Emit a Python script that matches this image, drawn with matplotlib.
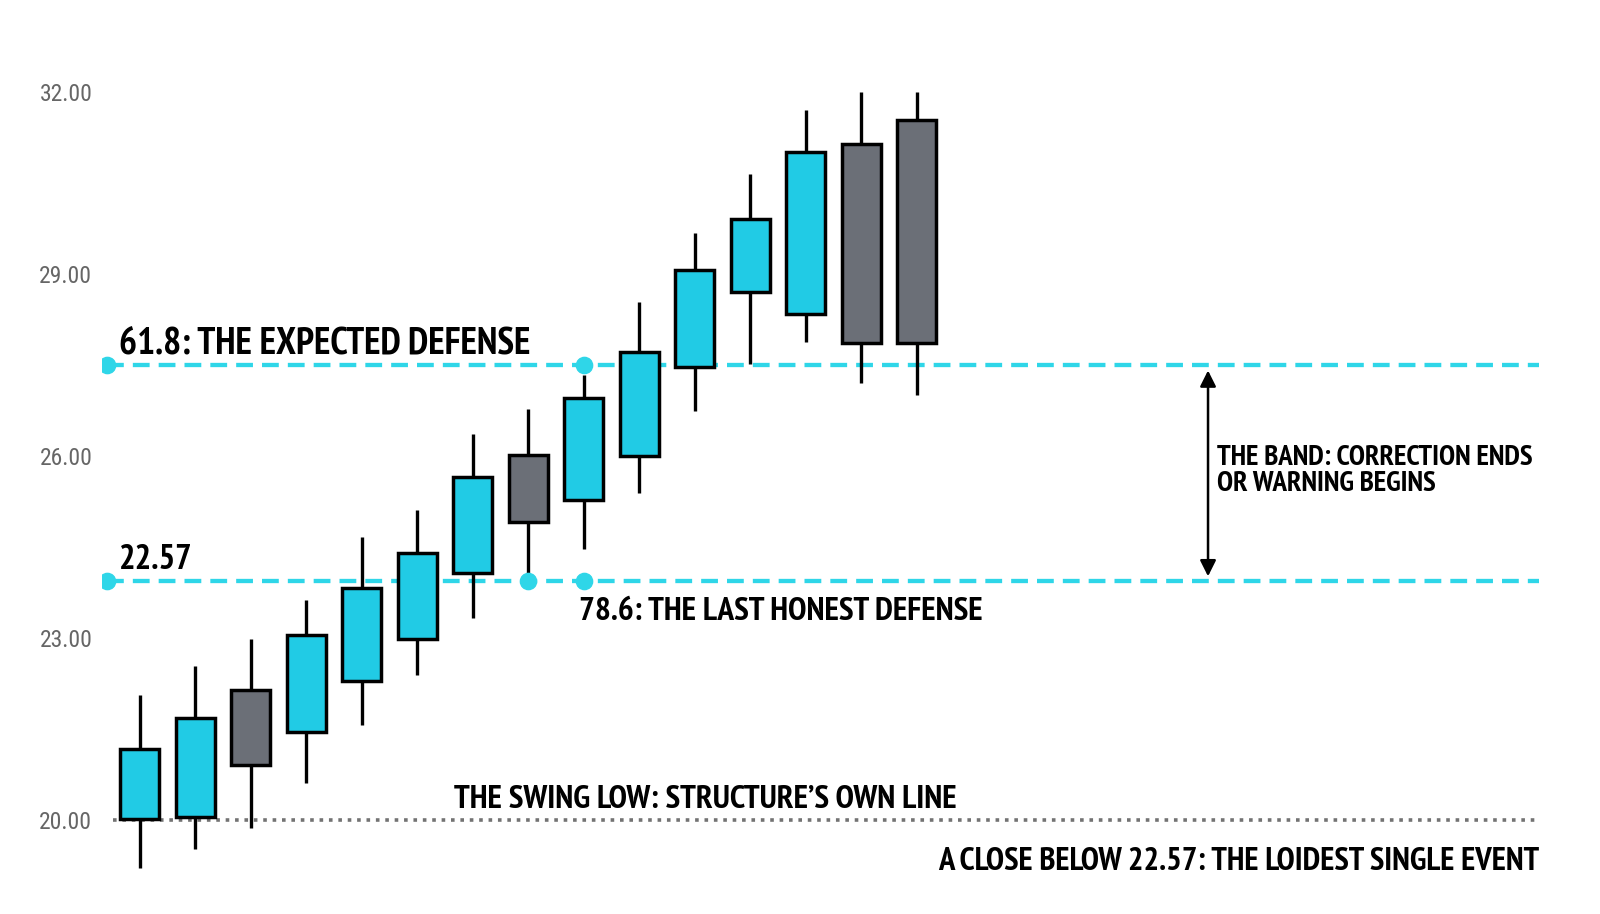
import matplotlib
matplotlib.use("Agg")
import matplotlib.pyplot as plt
from matplotlib.patches import Rectangle

plt.rcParams['font.family'] = ['Roboto Condensed', 'DejaVu Sans']
LABEL_FONT = ['PT Sans Narrow', 'Roboto Condensed', 'DejaVu Sans']

# OHLC
opens  = [20.02, 20.05, 22.15, 21.46, 22.30, 22.99, 24.07, 26.02, 25.28, 26.00, 27.46, 28.71, 28.34, 31.14, 31.53]
highs  = [22.07, 22.55, 22.99, 23.63, 24.66, 25.11, 26.37, 26.77, 27.34, 28.54, 29.68, 30.64, 31.70, 32.00, 32.00]
lows   = [19.21, 19.53, 19.88, 20.62, 21.58, 22.40, 23.33, 24.08, 24.47, 25.39, 26.74, 27.51, 27.88, 27.21, 27.01]
closes = [21.18, 21.68, 20.92, 23.06, 23.82, 24.40, 25.66, 24.91, 26.96, 27.71, 29.06, 29.90, 31.01, 27.87, 27.87]

level_618 = 27.50
level_786 = 23.95
swing_low = 20.00
yticks = [20, 23, 26, 29, 32]

CYAN = '#21cbe5'
LINE_CYAN = '#2fd6e8'
GRAY = '#6b6f77'

fig = plt.figure(figsize=(16, 9.14), dpi=100)
ax = fig.add_axes([102 / 1600, 0, 1439 / 1600, 1])
ax.set_xlim(-0.68, 25.25)
ax.set_ylim(18.46, 33.51)

x_left, x_right = -0.59, 25.21
w = 0.7
for i, (o, h, l, c) in enumerate(zip(opens, highs, lows, closes)):
    col = CYAN if c >= o else GRAY
    ax.plot([i, i], [l, h], color='black', lw=2.4, zorder=3, solid_capstyle='butt')
    ax.add_patch(Rectangle((i - w / 2, min(o, c)), w, abs(c - o),
                           facecolor=col, edgecolor='black', lw=2.5, zorder=4))

# fib levels
for lev in (level_618, level_786):
    ax.plot([x_left, x_right], [lev] * 2, color=LINE_CYAN, lw=3.1, ls=(0, (3.9, 2.1)), zorder=2)
ax.plot([x_left, 8], [level_618] * 2, 'o', color=LINE_CYAN, ms=11.7, zorder=5)
ax.plot([x_left, 7, 8], [level_786] * 3, 'o', color=LINE_CYAN, ms=11.7, zorder=5)

# swing low
ax.plot([x_left + 0.1, x_right], [swing_low] * 2, color='#737373', lw=2.6, ls=(0, (1, 1.6)), zorder=2)

# band arrow
ax.annotate('', xy=(19.25, 27.41), xytext=(19.25, 24.02),
            arrowprops=dict(arrowstyle='<|-|>', color='black', lw=1.8, mutation_scale=24,
                            shrinkA=0, shrinkB=0), zorder=6)

ax.text(-0.37, 27.67, '61.8: THE EXPECTED DEFENSE', fontsize=27.3, weight='bold', family=LABEL_FONT, va='baseline')
ax.text(-0.37, 24.135, '22.57', fontsize=25, weight='bold', family=LABEL_FONT, va='baseline')
ax.text(7.92, 23.295, '78.6: THE LAST HONEST DEFENSE', fontsize=24, weight='bold', family=LABEL_FONT, va='baseline')
ax.text(10.2, 20.20, 'THE SWING LOW: STRUCTURE\u2019S OWN LINE', fontsize=24, weight='bold', family=LABEL_FONT,
        ha='center', va='baseline')
ax.text(x_right, 19.18, 'A CLOSE BELOW 22.57: THE LOIDEST SINGLE EVENT', fontsize=23.6, weight='bold',
        family=LABEL_FONT, ha='right', va='baseline')
ax.text(19.41, 25.75, 'THE BAND: CORRECTION ENDS\nOR WARNING BEGINS', fontsize=20.8, weight='bold',
        family=LABEL_FONT, va='center', ha='left', linespacing=1.02)

ax.set_yticks(yticks)
ax.set_yticklabels([f'{v:.2f}' for v in yticks], color='#666666', fontsize=17)
ax.tick_params(axis='y', length=0, pad=7)
ax.set_xticks([])
for s in ax.spines.values():
    s.set_visible(False)

fig.savefig('out.png', dpi=100, facecolor='white')
